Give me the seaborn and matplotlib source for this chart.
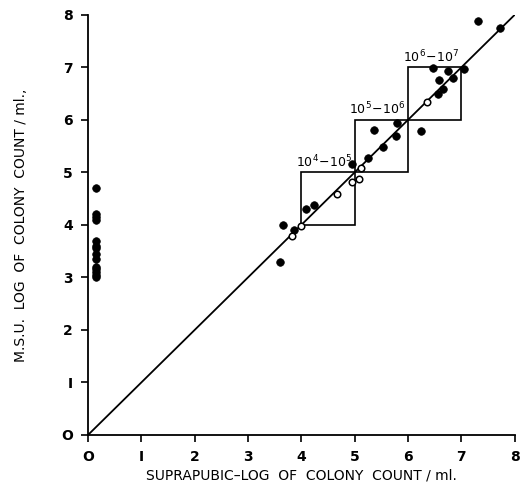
import numpy as np
import pandas as pd
import matplotlib
matplotlib.use("Agg")
import matplotlib.pyplot as plt
from matplotlib.patches import Rectangle
import seaborn as sns

# filled circles (suprapubic, MSU) log counts
filled_x = [0.15] * 14 + [3.60, 3.65, 3.86, 4.08, 4.24, 4.95, 5.25, 5.37, 5.53, 5.77,
                          5.80, 6.25, 6.47, 6.75, 7.05, 6.58, 6.85, 6.65, 6.56, 7.31, 7.72]
filled_y = [4.70, 4.20, 4.15, 4.10, 3.70, 3.60, 3.55, 3.45, 3.35, 3.20, 3.15, 3.10, 3.05, 3.00,
            3.30, 4.00, 3.90, 4.30, 4.38, 5.16, 5.27, 5.80, 5.49, 5.70,
            5.93, 5.78, 6.98, 6.92, 6.97, 6.75, 6.79, 6.58, 6.50, 7.89, 7.75]

# open circles
open_x = [3.82, 4.00, 4.66, 4.94, 5.08, 5.12, 6.35]
open_y = [3.79, 3.97, 4.58, 4.81, 4.88, 5.08, 6.34]

# concordance boxes (log ranges) and their labels
box_lo = [4, 5, 6]
box_labels = [r"$\mathregular{10^4\!-\!10^5}$", r"$\mathregular{10^5\!-\!10^6}$",
              r"$\mathregular{10^6\!-\!10^7}$"]

ticks = [0, 1, 2, 3, 4, 5, 6, 7, 8]
tick_labels = ["O", "I", "2", "3", "4", "5", "6", "7", "8"]

sns.set_style("ticks")
plt.rcParams["font.family"] = ["DejaVu Sans"]
plt.rcParams["text.color"] = "black"
plt.rcParams["axes.labelcolor"] = "black"
plt.rcParams["xtick.color"] = "black"
plt.rcParams["ytick.color"] = "black"
plt.rcParams["axes.edgecolor"] = "black"

fig = plt.figure(figsize=(5.21, 4.92), dpi=100)
ax = fig.add_axes([0.169, 0.116, 0.819, 0.854])

df_f = pd.DataFrame({"x": filled_x, "y": filled_y})
df_o = pd.DataFrame({"x": open_x, "y": open_y})

# line of identity
ax.plot([ticks[0], ticks[-1]], [ticks[0], ticks[-1]], color="black", lw=1.3, zorder=1)

for lo, lab in zip(box_lo, box_labels):
    ax.add_patch(Rectangle((lo, lo), 1, 1, fill=False, edgecolor="black", lw=1.2, zorder=1))
    ax.text(lo - 0.1, lo + 1.04, lab, fontsize=9, ha="left", va="bottom", zorder=4)

sns.scatterplot(data=df_f, x="x", y="y", ax=ax, color="black", s=30,
                edgecolor="black", linewidth=0.5, zorder=3)
sns.scatterplot(data=df_o, x="x", y="y", ax=ax, color="white", s=22,
                edgecolor="black", linewidth=1.1, zorder=3)

ax.set_xlim(0, 8)
ax.set_ylim(0, 8)
ax.set_xticks(ticks)
ax.set_yticks(ticks)
ax.set_xticklabels(tick_labels, fontsize=10, fontweight="bold")
ax.set_yticklabels(tick_labels, fontsize=10, fontweight="bold")
ax.tick_params(direction="out", length=5, width=1.2, pad=6)
sns.despine(ax=ax)
for s in ["left", "bottom"]:
    ax.spines[s].set_linewidth(1.3)

ax.set_xlabel("SUPRAPUBIC\u2013LOG  OF  COLONY  COUNT / ml.", fontsize=10, labelpad=3)
ax.set_ylabel("M.S.U.  LOG  OF  COLONY  COUNT / ml.,", fontsize=10, labelpad=24)

fig.savefig("out.png", dpi=100)
